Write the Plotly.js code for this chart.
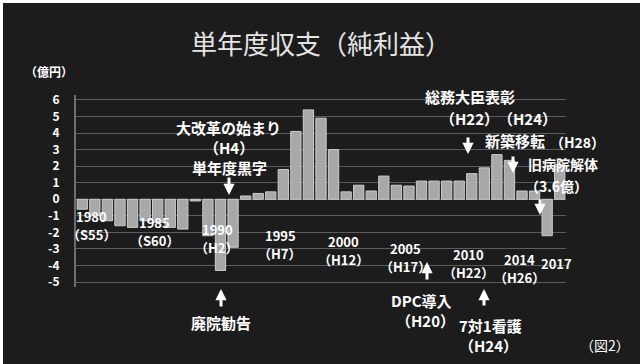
<!DOCTYPE html>
<html><head><meta charset="utf-8">
<script src="https://cdn.plot.ly/plotly-3.0.1.min.js"></script>
<style>
html,body{margin:0;padding:0;background:#ffffff;width:640px;height:364px;overflow:hidden}
#chart{position:absolute;left:3px;top:3px;width:637px;height:361px;}
</style>
</head><body><div id="chart"></div>
<script>
// ---- data (億円) ----
const years = [1979,1980,1981,1982,1983,1984,1985,1986,1987,1988,1989,1990,1991,1992,1993,1994,1995,1996,1997,1998,
  1999,2000,2001,2002,2003,2004,2005,2006,2007,2008,2009,2010,2011,2012,2013,2014,2015,2016,2017];
const values = [-0.6,-1.0,-1.3,-1.6,-1.7,-1.3,-1.4,-1.7,-1.8,-0.1,-2.2,-4.3,-2.9,0.2,0.35,0.45,1.8,4.1,5.4,4.9,
  3.0,0.45,0.85,0.5,1.4,0.85,0.8,1.1,1.1,1.1,1.1,1.55,1.9,2.7,2.35,0.5,0.5,-2.2,2.1];
const tickYears  = [1980,1985,1990,1995,2000,2005,2010,2014,2017];
const tickLabels = ['1980','1985','1990','1995','2000','2005','2010','2014','2017'];
const eraLabels  = ['（S55）','（S60）','（H2）','（H7）','（H12）','（H17）','（H22）','（H26）',''];
const yTicks = [6,5,4,3,2,1,0,-1,-2,-3,-4,-5];

// ---- layout geometry (page pixels) ----
const PL = 76, PR = 566, PT = 95, PB = 287;
const px = x => (x - PL) / (PR - PL);
const py = y => (PB - y) / (PB - PT);
const FONT = '"Noto Sans CJK JP", "Noto Sans", sans-serif';
const white = '#ffffff';

function txt(t, x, y, size, weight) {
  return {text: t, xref: 'paper', yref: 'paper', x: px(x), y: py(y), showarrow: false,
    xanchor: 'center', yanchor: 'middle',
    font: {family: FONT, size: size || 15, color: white, weight: weight || 'bold'}};
}
function arrow(x, y, ay) {
  return {text: '', xref: 'paper', yref: 'paper', x: px(x), y: py(y), showarrow: true,
    ax: 0, ay: ay, arrowcolor: white, arrowwidth: 3, arrowhead: 2, arrowsize: 0.75, standoff: 0};
}

const annotations = [];
// year labels along the slanted floor edge
const xPix = yr => PL + (yr - 1978.5) * (PR - PL) / 39;
tickYears.forEach((yr, i) => {
  const ly = 216 + 0.102 * (xPix(yr) - 93);
  annotations.push({text: tickLabels[i], xref: 'x', yref: 'paper', x: yr, y: py(ly), showarrow: false,
    xanchor: 'center', yanchor: 'middle', xshift: -3,
    font: {family: FONT, size: 13, color: white, weight: 'bold'}});
  if (eraLabels[i]) annotations.push({text: eraLabels[i], xref: 'x', yref: 'paper', x: yr, y: py(ly + 18), showarrow: false,
    xanchor: 'center', yanchor: 'middle', xshift: -3,
    font: {family: FONT, size: 13, color: white, weight: 'bold'}});
});

annotations.push(
  txt('（億円）', 49, 72, 12),
  txt('大改革の始まり', 228, 127),
  txt('（H4）', 229, 147),
  txt('単年度黒字', 229, 167),
  arrow(229, 195, -19),
  txt('廃院勧告', 221, 322),
  arrow(221, 289, 19),
  txt('総務大臣表彰', 470, 96),
  txt('（H22）', 469, 118),
  txt('（H24）', 527, 118),
  arrow(468, 154, -18),
  txt('新築移転', 515, 140),
  txt('（H28）', 577, 142, 14),
  arrow(513, 173, -18),
  txt('旧病院解体', 563, 164, 14),
  txt('（3.6億）', 556, 186, 14),
  arrow(540, 215, -17),
  txt('DPC導入', 421, 300),
  txt('（H20）', 425, 320),
  arrow(427, 262, 19),
  txt('7対1看護', 490, 325),
  txt('（H24）', 488, 345),
  arrow(484, 289, 18),
  txt('（図2）', 605, 345, 14, 'normal')
);

const trace = {
  type: 'bar', x: years, y: values,
  marker: {color: '#a8a8a8', line: {color: '#cccccc', width: 1}},
  hoverinfo: 'x+y'
};

const layout = {
  width: 637, height: 361,
  margin: {l: PL - 3, r: 640 - PR, t: PT - 3, b: 364 - PB, pad: 0},
  paper_bgcolor: '#1c1c1c', plot_bgcolor: '#1c1c1c',
  showlegend: false, bargap: 0.18,
  title: {text: '単年度収支（純利益）', x: 0.5, xanchor: 'center', xref: 'paper',
    y: 1 - (45 - 3) / 361, yanchor: 'middle', yref: 'container',
    font: {family: FONT, size: 26, color: '#e4e4e4', weight: 'normal'}},
  xaxis: {range: [1978.5, 2017.5], showticklabels: false, showgrid: false, zeroline: false,
    showline: false, ticks: ''},
  yaxis: {range: [-5.3, 6.3], tickvals: yTicks, ticktext: yTicks.map(String),
    showgrid: true, gridcolor: '#5c5c5c', gridwidth: 1,
    zeroline: true, zerolinecolor: '#6a6a6a', zerolinewidth: 1,
    showline: true, linecolor: '#6e6e6e', linewidth: 2, ticks: '', ticklabelstandoff: 12,
    tickfont: {family: FONT, size: 12, color: white, weight: 'bold'}},
  annotations: annotations
};

Plotly.newPlot('chart', [trace], layout, {displayModeBar: false, staticPlot: true});
</script>
</body></html>
